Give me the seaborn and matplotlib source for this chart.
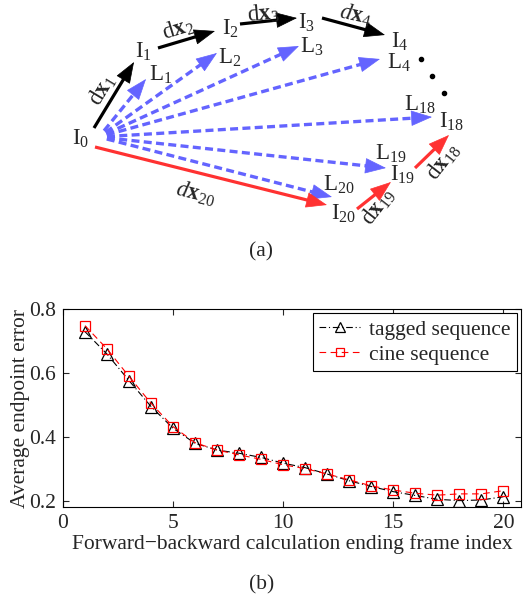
import numpy as np
import pandas as pd
import matplotlib
matplotlib.use("Agg")
import matplotlib.pyplot as plt
from matplotlib.patches import FancyArrowPatch
import seaborn as sns

# ---- data -------------------------------------------------------------
frames = list(range(1, 21))
tagged_err = [0.729, 0.659, 0.576, 0.495, 0.427, 0.380, 0.359, 0.349, 0.336, 0.318,
              0.304, 0.284, 0.263, 0.245, 0.229, 0.217, 0.205, 0.201, 0.203, 0.213]
cine_err = [0.748, 0.675, 0.589, 0.505, 0.432, 0.382, 0.359, 0.344, 0.330, 0.313,
            0.301, 0.284, 0.266, 0.247, 0.234, 0.224, 0.218, 0.222, 0.222, 0.232]
series_names = ["tagged sequence", "cine sequence"]
x_ticks = [0, 5, 10, 15, 20]
y_ticks = [0.2, 0.4, 0.6, 0.8]

sns.set_style("ticks")
plt.rcParams["font.family"] = ["Liberation Serif", "DejaVu Serif"]
plt.rcParams["mathtext.fontset"] = "custom"
plt.rcParams["mathtext.rm"] = "Liberation Serif"
plt.rcParams["mathtext.it"] = "Liberation Serif:italic"
plt.rcParams["mathtext.bf"] = "Liberation Serif:bold"

FS = 15.5      # axis text
DFS = 16.5     # schematic text
fig = plt.figure(figsize=(5.23, 6.01), dpi=100)

# ---- (a) schematic, drawn in pixel units ------------------------------
sk = fig.add_axes([0, 0, 1, 1])
sk.set_xlim(0, 523)
sk.set_ylim(601, 0)
sk.axis("off")

BLUE = "#6464FF"
RED = "#FF3232"


def head(ax, p0, p1, color):
    ax.add_patch(FancyArrowPatch(p0, p1, arrowstyle="-|>,head_length=0.7,head_width=0.26",
                                 mutation_scale=20, color=color, lw=0.5,
                                 shrinkA=0, shrinkB=0))


def solid_arrow(ax, p0, p1, color):
    p0 = np.array(p0, float); p1 = np.array(p1, float)
    u = (p1 - p0) / np.linalg.norm(p1 - p0)
    base = p1 - u * 15
    ax.plot([p0[0], base[0]], [p0[1], base[1]], color=color, lw=2.3,
            solid_capstyle="butt")
    head(ax, base - u * 2, p1, color)


def dashed_arrow(ax, origin, tip, color):
    o = np.array(origin, float); t = np.array(tip, float)
    u = (t - o) / np.linalg.norm(t - o)
    start = o + u * 8
    base = t - u * 15
    ax.plot([start[0], base[0]], [start[1], base[1]], color=color, lw=2.4,
            linestyle=(0, (2.4, 1.3)), dash_capstyle="butt")
    head(ax, base - u * 2, t, color)


# dashed fan from I0 to the L points
fan_origin = (99, 137)
fan_tips = [(146, 79), (217, 53), (299, 46), (380, 59), (432, 117), (386, 168), (332, 197)]
for tip in fan_tips:
    dashed_arrow(sk, fan_origin, tip, BLUE)

# forward steps (black) and backward steps (red)
black_steps = [((94, 128), (134, 62)), ((158, 48), (215, 31)),
               ((240, 24), (297, 18)), ((322, 18), (385, 35))]
red_steps = [((95, 147), (327, 205)), ((357, 209), (391, 182)), ((415, 168), (449, 135))]
for p0, p1 in black_steps:
    solid_arrow(sk, p0, p1, "black")
for p0, p1 in red_steps:
    solid_arrow(sk, p0, p1, RED)

labels = [
    (r"$\mathrm{I}_0$", 81, 139), (r"$\mathrm{I}_1$", 143, 52), (r"$\mathrm{I}_2$", 230, 29),
    (r"$\mathrm{I}_3$", 307, 23), (r"$\mathrm{I}_4$", 400, 42),
    (r"$\mathrm{L}_1$", 161, 75), (r"$\mathrm{L}_2$", 230, 58), (r"$\mathrm{L}_3$", 312, 47),
    (r"$\mathrm{L}_4$", 399, 63), (r"$\mathrm{L}_{18}$", 420, 105), (r"$\mathrm{I}_{18}$", 452, 122),
    (r"$\mathrm{L}_{19}$", 391, 154), (r"$\mathrm{I}_{19}$", 403, 175),
    (r"$\mathrm{L}_{20}$", 339, 185), (r"$\mathrm{I}_{20}$", 344, 214),
]
for s, x, y in labels:
    sk.text(x, y, s, fontsize=DFS, ha="center", va="center")

step_labels = [
    (r"$\mathrm{d}\mathbf{x}_1$", 102, 90, 59), (r"$\mathrm{d}\mathbf{x}_2$", 178, 29, 17),
    (r"$\mathrm{d}\mathbf{x}_3$", 263, 14, 5), (r"$\mathit{d}\mathbf{x}_4$", 355, 15, -12),
    (r"$\mathit{d}\mathbf{x}_{20}$", 195, 194, -14), (r"$\mathrm{d}\mathbf{x}_{19}$", 378, 207, 52),
    (r"$\mathrm{d}\mathbf{x}_{18}$", 443, 162, 52),
]
for s, x, y, r in step_labels:
    sk.text(x, y, s, fontsize=DFS, ha="center", va="center", rotation=r,
            rotation_mode="anchor")

for x, y in [(421, 59), (432, 76), (444, 93)]:
    sk.plot(x, y, "o", color="black", ms=3)

sk.text(261, 252, "(a)", fontsize=FS, ha="center", va="center")
sk.text(262, 585, "(b)", fontsize=FS, ha="center", va="center")

# ---- (b) error curves -------------------------------------------------
ax = fig.add_axes([63 / 523, 1 - 507 / 601, 458 / 523, 198 / 601])
df = pd.DataFrame({"frame": frames + frames,
                   "error": tagged_err + cine_err,
                   "sequence": [series_names[0]] * len(frames) + [series_names[1]] * len(frames)})

sns.lineplot(data=df[df.sequence == series_names[0]], x="frame", y="error", ax=ax,
             color="black", lw=0.8, linestyle=(0, (6, 2.5, 1, 2.5)), marker="^", ms=9,
             mfc="none", mec="black", mew=0.9, label=series_names[0])
sns.lineplot(data=df[df.sequence == series_names[1]], x="frame", y="error", ax=ax,
             color="red", lw=0.8, linestyle=(0, (6, 4)), marker="s", ms=7.5,
             mfc="none", mec="red", mew=0.9, label=series_names[1])

ax.set_xlim(0, 20.8)
ax.set_ylim(0.181, 0.8)
ax.set_xticks(x_ticks)
ax.set_yticks(y_ticks)
ax.set_xticklabels([str(t) for t in x_ticks])
ax.set_yticklabels([f"{t:.1f}" for t in y_ticks])
ax.tick_params(direction="in", length=4, width=0.8, top=True, right=True,
               labelsize=FS, pad=5)
for sp in ax.spines.values():
    sp.set_visible(True)
    sp.set_linewidth(0.8)
    sp.set_color("black")
ax.set_xlabel("Forward\u2212backward calculation ending frame index", fontsize=FS, labelpad=1)
ax.set_ylabel("Average endpoint error", fontsize=FS, labelpad=-1)

leg = ax.legend(loc="upper right", fontsize=FS, frameon=True, fancybox=False,
                edgecolor="black", framealpha=1, handlelength=1.9, handletextpad=0.4,
                borderpad=0.3, labelspacing=0.22, borderaxespad=0.2, markerscale=0.8)
leg.get_frame().set_linewidth(0.8)

fig.savefig("out.png", dpi=100)
